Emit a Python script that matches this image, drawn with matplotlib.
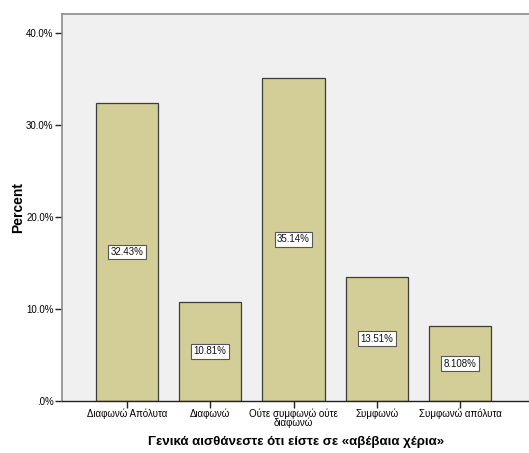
import matplotlib
matplotlib.use("Agg")
import matplotlib.pyplot as plt

categories = ["Διαφωνώ Απόλυτα", "Διαφωνώ", "Ούτε συμφωνώ ούτε\nδιαφωνώ", "Συμφωνώ", "Συμφωνώ απόλυτα"]
percents = [32.43, 10.81, 35.14, 13.51, 8.108]
value_labels = ["32.43%", "10.81%", "35.14%", "13.51%", "8.108%"]
yticks = [0, 10, 20, 30, 40]
ytick_labels = [".0%", "10.0%", "20.0%", "30.0%", "40.0%"]

plt.rcParams['font.family'] = ['Liberation Sans', 'DejaVu Sans']

fig = plt.figure(figsize=(5.29, 4.53), dpi=100)
ax = fig.add_axes([62/529, 1-401/453, 468/529, (401-14)/453])
ax.set_facecolor("#F0F0F0")

x = list(range(len(categories)))
ax.bar(x, percents, width=0.75, color="#D3CE97", edgecolor="#3C3C3C", linewidth=0.9, zorder=2)
for xi, v, lab in zip(x, percents, value_labels):
    ax.text(xi, v/2, lab, ha="center", va="center", fontsize=7, color="#111111", zorder=3,
            bbox=dict(boxstyle="square,pad=0.25", fc="white", ec="#555555", lw=0.8))

ax.set_xlim(-0.78, 4.84)
ax.set_ylim(0, 42.1)
ax.set_yticks(yticks)
ax.set_yticklabels(ytick_labels)
ax.set_xticks(x)
ax.set_xticklabels(categories, linespacing=0.8)
ax.tick_params(axis="both", labelsize=7, length=5, width=1, color="#222222", direction="out")
ax.tick_params(axis="x", pad=0.5)
ax.tick_params(axis="y", pad=1)

for s in ["left", "top"]:
    ax.spines[s].set_color("#8C8C8C")
    ax.spines[s].set_linewidth(1.2)
ax.spines["right"].set_visible(False)
ax.spines["bottom"].set_color("#222222")
ax.spines["bottom"].set_linewidth(1)

ax.set_ylabel("Percent", fontsize=10, fontweight="bold", labelpad=0.5)
ax.set_xlabel("Γενικά αισθάνεστε ότι είστε σε «αβέβαια χέρια»", fontsize=9.5, fontweight="bold", labelpad=6)

fig.savefig("out.png", dpi=100)
